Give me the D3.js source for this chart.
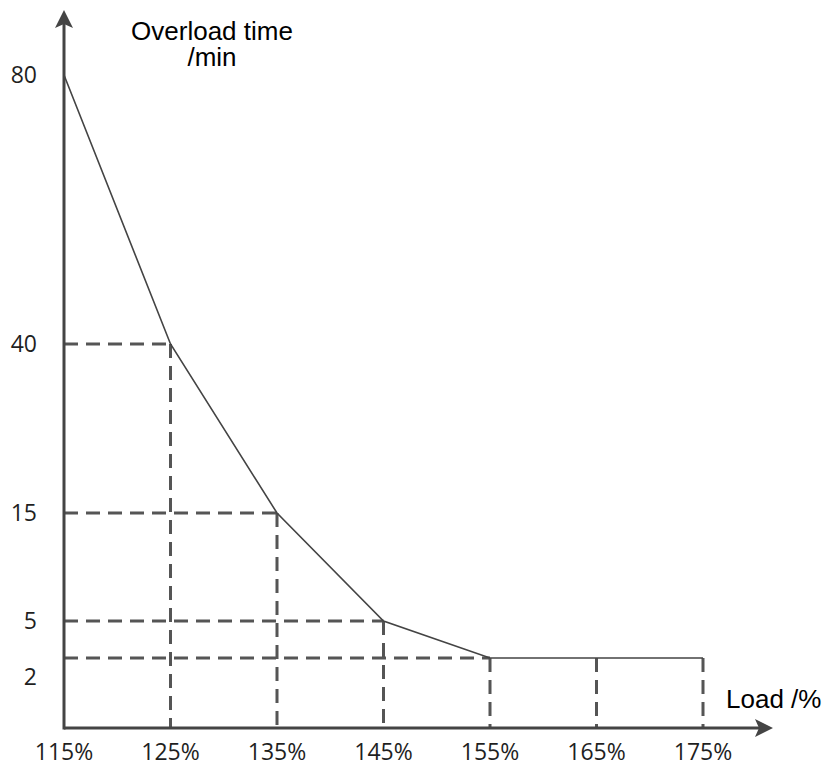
<!DOCTYPE html>
<html>
<head>
<meta charset="utf-8">
<script src="https://cdn.jsdelivr.net/npm/d3@7"></script>
<style>
  body { margin: 0; background: #fff; }
  svg { display: block; }
  .tick-label { font-family: "Open Sans", sans-serif; font-size: 23px; fill: #1f1f1f; }
  .title { font-family: "Liberation Sans", Arial, sans-serif; font-size: 26px; fill: #000; }
</style>
</head>
<body>
<svg width="830" height="767"></svg>
<script>
// data
var loads = [115, 125, 135, 145, 155, 165, 175];
var times = [80, 40, 15, 5, 2, 2, 2];
var yTicks = [80, 40, 15, 5, 2];
var xTickLabels = ["115%", "125%", "135%", "145%", "155%", "165%", "175%"];

var svg = d3.select("svg");

// x is linear, y axis in the drawing is not to scale, so use a piecewise scale
var x = d3.scaleLinear().domain([115, 175]).range([64, 703]);
var y = d3.scaleLinear()
    .domain([0, 2, 5, 15, 40, 80])
    .range([728, 658, 621, 513, 344, 75]);

var points = loads.map(function(d, i) { return { load: d, time: times[i] }; });

var axisColor = "#444",
    dashColor = "#555";

// guide lines
var guides = svg.append("g").attr("class", "guides")
    .attr("stroke", dashColor)
    .attr("stroke-width", 3)
    .attr("stroke-dasharray", "14,8")
    .attr("fill", "none");

// horizontal dashes (skip 80 and the repeated 2s)
guides.selectAll("line.h")
    .data(points.filter(function(d, i) { return i > 0 && i < 5; }))
  .enter().append("line")
    .attr("class", "h")
    .attr("x1", x(115))
    .attr("x2", function(d) { return x(d.load); })
    .attr("y1", function(d) { return y(d.time); })
    .attr("y2", function(d) { return y(d.time); });

guides.selectAll("line.v")
    .data(points.filter(function(d, i) { return i > 0; }))
  .enter().append("line")
    .attr("class", "v")
    .attr("x1", function(d) { return x(d.load); })
    .attr("x2", function(d) { return x(d.load); })
    .attr("y1", function(d) { return y(d.time); })
    .attr("y2", y(0));

// the curve
var line = d3.line()
    .x(function(d) { return x(d.load); })
    .y(function(d) { return y(d.time); });

svg.append("path")
    .datum(points)
    .attr("d", line)
    .attr("fill", "none")
    .attr("stroke", "#444")
    .attr("stroke-width", 1.6);

// axes with arrows
svg.append("line")
    .attr("x1", x(115)).attr("x2", 760)
    .attr("y1", y(0)).attr("y2", y(0))
    .attr("stroke", axisColor).attr("stroke-width", 3);
svg.append("line")
    .attr("x1", x(115)).attr("x2", x(115))
    .attr("y1", y(0) + 1.5).attr("y2", 24)
    .attr("stroke", axisColor).attr("stroke-width", 3);

svg.append("path")
    .attr("d", "M773," + y(0) + "L755," + (y(0) - 9) + "L759," + y(0) + "L755," + (y(0) + 9) + "Z")
    .attr("fill", axisColor);
svg.append("path")
    .attr("d", "M" + x(115) + ",10L" + (x(115) - 9) + ",28L" + x(115) + ",24L" + (x(115) + 9) + ",28Z")
    .attr("fill", axisColor);

// tick labels
svg.selectAll("text.xl")
    .data(loads)
  .enter().append("text")
    .attr("class", "tick-label xl")
    .attr("x", function(d) { return x(d); })
    .attr("y", 760)
    .attr("text-anchor", "middle")
    .text(function(d, i) { return xTickLabels[i]; });

svg.selectAll("text.yl")
    .data(yTicks)
  .enter().append("text")
    .attr("class", "tick-label yl")
    .attr("x", 37)
    .attr("y", function(d) { return y(d) + (d === 2 ? 19 : 0); })
    .attr("dy", "0.36em")
    .attr("text-anchor", "end")
    .text(function(d) { return d; });

// axis titles
svg.append("text").attr("class", "title")
    .attr("x", 212).attr("y", 40)
    .attr("text-anchor", "middle")
    .text("Overload time");
svg.append("text").attr("class", "title")
    .attr("x", 212).attr("y", 66)
    .attr("text-anchor", "middle")
    .text("/min");
svg.append("text").attr("class", "title")
    .attr("x", 726).attr("y", 708)
    .text("Load /%");
</script>
</body>
</html>
